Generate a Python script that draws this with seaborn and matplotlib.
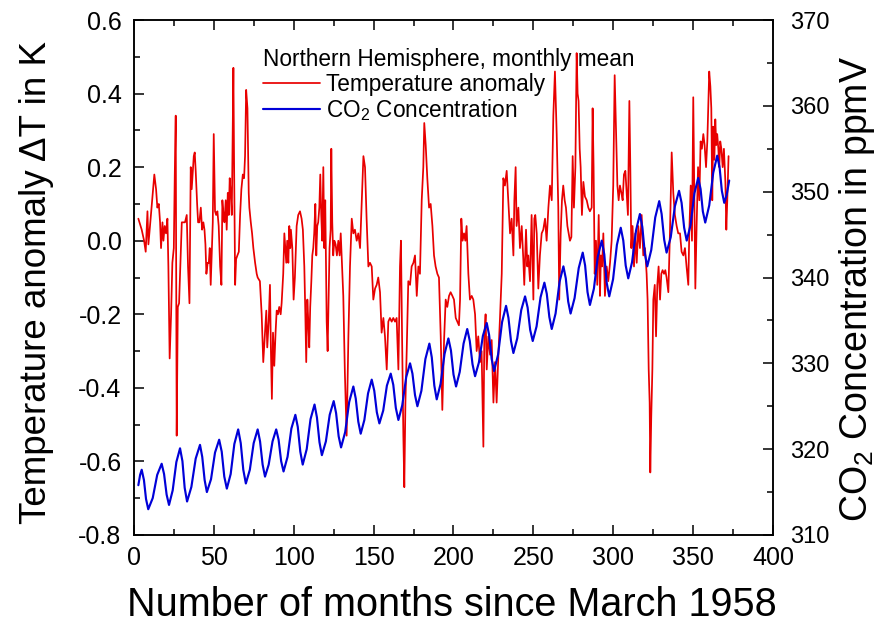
import pandas as pd
import matplotlib
matplotlib.use("Agg")
import matplotlib.pyplot as plt
from matplotlib.ticker import MultipleLocator
import seaborn as sns

# ---------------------------------------------------------
# DATA
# ---------------------------------------------------------
temp_month = [
    2.7, 4.8, 6.3, 7.3, 8.4, 9.0, 10.0, 11.7, 12.7, 13.8, 14.6, 15.5, 16.3, 16.9, 17.8, 18.4,
    19.2, 20.0, 20.9, 21.5, 22.3, 23.2, 24.0, 24.9, 25.5, 26.1, 26.7, 27.4, 28.2, 29.2, 29.9,
    30.9, 31.9, 33.0, 33.8, 34.7, 35.5, 36.1, 36.8, 37.4, 38.0, 38.6, 39.5, 40.1, 40.9, 41.8,
    42.6, 43.4, 44.1, 44.7, 45.3, 46.1, 46.8, 47.4, 48.0, 48.6, 49.3, 49.9, 50.7, 51.4, 52.2,
    53.0, 53.9, 54.7, 55.3, 56.0, 56.6, 57.4, 58.0, 58.7, 59.3, 59.9, 60.5, 61.2, 61.8, 62.2,
    62.6, 63.3, 63.9, 64.7, 65.6, 66.4, 67.2, 68.1, 68.9, 69.5, 70.2, 71.0, 71.8, 72.2, 73.1,
    73.9, 74.7, 75.8, 76.8, 77.4, 78.8, 79.9, 80.9, 82.0, 82.8, 83.4, 84.3, 85.1, 85.7, 86.3,
    87.0, 87.8, 88.6, 89.3, 90.1, 90.9, 91.8, 92.4, 93.4, 94.1, 94.7, 95.3, 95.9, 96.6, 97.2,
    97.8, 98.2, 99.1, 99.9, 100.7, 101.8, 102.8, 103.9, 104.9, 105.7, 106.6, 107.2, 107.8,
    108.5, 109.1, 109.7, 110.3, 111.0, 111.6, 112.2, 112.8, 113.5, 114.1, 114.7, 115.3, 116.0,
    116.6, 117.2, 117.8, 118.5, 119.1, 119.7, 120.6, 121.2, 121.8, 122.4, 123.1, 123.5, 124.1,
    124.7, 125.4, 126.2, 127.0, 127.9, 128.7, 129.4, 131.0, 132.0, 133.1, 134.2, 135.2, 136.3,
    137.3, 138.3, 139.4, 140.4, 141.5, 142.5, 143.6, 144.6, 145.6, 146.7, 147.7, 148.8, 149.8,
    150.9, 151.9, 152.9, 154.0, 155.0, 156.1, 157.1, 158.2, 159.2, 160.2, 161.3, 162.3, 163.4,
    164.4, 165.5, 166.5, 167.1, 167.8, 168.6, 169.2, 169.9, 170.7, 171.7, 172.8, 173.8, 174.9,
    175.9, 177.0, 178.0, 179.0, 180.1, 181.1, 181.7, 182.6, 183.6, 184.7, 185.7, 186.8, 187.8,
    188.8, 189.9, 190.9, 192.0, 193.0, 194.1, 195.1, 196.1, 197.2, 198.2, 199.3, 200.3, 201.4,
    202.4, 203.4, 204.1, 204.9, 205.7, 206.6, 207.4, 208.2, 209.3, 210.3, 211.4, 212.4, 213.5,
    214.5, 215.5, 216.6, 217.6, 218.7, 219.3, 220.1, 220.8, 221.8, 222.9, 223.9, 225.0, 226.0,
    227.0, 228.1, 229.1, 230.2, 231.2, 232.2, 233.3, 234.3, 235.4, 236.4, 237.5, 238.1, 238.9,
    239.5, 240.6, 241.6, 242.7, 243.7, 244.3, 245.4, 246.2, 246.8, 247.9, 248.9, 250.0, 250.6,
    251.2, 252.1, 253.1, 254.1, 255.2, 256.2, 257.3, 258.3, 259.4, 260.4, 261.5, 262.5, 263.5,
    264.6, 265.6, 266.2, 267.1, 267.9, 268.7, 269.6, 270.4, 271.3, 272.1, 272.9, 273.8, 274.6,
    275.4, 276.3, 277.1, 277.7, 278.3, 279.0, 279.6, 280.4, 281.3, 282.3, 283.4, 284.4, 285.4,
    286.5, 287.1, 287.7, 288.4, 289.2, 290.0, 290.9, 291.7, 292.3, 293.0, 293.8, 294.8, 295.9,
    296.9, 298.0, 299.0, 300.0, 300.9, 301.7, 302.6, 303.4, 304.2, 305.1, 305.9, 306.7, 307.6,
    308.4, 309.2, 310.1, 310.7, 311.3, 312.1, 313.0, 313.8, 314.7, 315.7, 316.7, 317.8, 318.8,
    319.9, 320.9, 321.5, 322.2, 322.8, 323.2, 323.8, 324.5, 325.1, 326.0, 326.8, 327.6, 328.4,
    329.3, 330.1, 330.9, 331.8, 332.6, 333.4, 334.5, 335.5, 336.6, 337.6, 338.6, 339.7, 340.7,
    341.8, 342.8, 343.9, 344.9, 345.9, 347.0, 347.6, 348.5, 349.3, 350.1, 350.8, 351.4, 352.2,
    353.1, 353.9, 354.7, 355.5, 356.4, 357.2, 358.1, 358.9, 359.7, 360.1, 360.8, 361.4, 362.0,
    362.6, 363.3, 363.9, 364.5, 365.1, 365.8, 366.4, 367.0, 367.7, 368.5, 369.3, 370.2, 370.8,
    371.4, 372.2,
]
temp_anom = [
    0.06, 0.03, 0.00, -0.03, 0.08, -0.01, 0.04, 0.13, 0.18, 0.14, 0.09, 0.10, 0.05, -0.02, 0.05, 0.00,
    0.04, 0.02, 0.06, -0.07, -0.32, -0.20, -0.06, -0.02, 0.18, 0.34, -0.53, -0.18, -0.17, -0.04, 0.05,
    0.05, 0.05, 0.07, -0.07, -0.17, 0.20, 0.14, 0.19, 0.23, 0.24, 0.19, 0.10, 0.05, 0.05, 0.09,
    0.03, 0.05, 0.03, -0.01, -0.09, -0.06, -0.06, -0.02, -0.12, -0.04, 0.05, 0.29, 0.08, 0.07, 0.08,
    0.04, -0.07, -0.12, 0.11, 0.07, 0.05, 0.11, 0.03, 0.13, 0.07, 0.17, 0.13, 0.07, 0.32, 0.47,
    0.23, -0.12, -0.05, -0.04, -0.03, 0.07, 0.14, 0.18, 0.17, 0.23, 0.41, 0.36, 0.13, 0.09, 0.05,
    0.02, -0.02, -0.06, -0.09, -0.10, -0.11, -0.20, -0.33, -0.25, -0.19, -0.29, -0.22, -0.12, -0.30, -0.43,
    -0.25, -0.34, -0.25, -0.19, -0.20, -0.18, -0.20, -0.17, -0.09, 0.02, -0.02, -0.06, 0.00, -0.06, 0.04,
    -0.02, 0.03, -0.02, -0.16, -0.10, 0.04, 0.07, 0.08, 0.06, 0.03, -0.07, -0.19, -0.33,
    -0.16, -0.22, -0.29, -0.18, -0.11, -0.04, -0.02, 0.02, 0.10, -0.04, 0.04, 0.05, 0.09,
    0.18, 0.07, 0.00, 0.20, -0.02, 0.11, -0.22, -0.30, -0.16, -0.02, 0.03, 0.25, 0.05,
    -0.04, 0.00, -0.01, -0.04, 0.00, -0.04, 0.02, -0.15, -0.36, -0.53, -0.26, -0.07, 0.06,
    0.02, 0.03, 0.00, 0.02, -0.02, 0.10, 0.23, 0.20, 0.06, -0.07, -0.06, -0.07, -0.16,
    -0.13, -0.12, -0.10, -0.14, -0.25, -0.21, -0.26, -0.35, -0.22, -0.21, -0.22, -0.21, -0.22,
    -0.21, -0.35, -0.07, 0.00, -0.26, -0.53, -0.67, -0.44, -0.30, -0.11, -0.12, -0.07, -0.06,
    -0.04, -0.15, -0.07, -0.09, 0.11, 0.20, 0.32, 0.26, 0.17, 0.09, 0.10, 0.04, -0.04,
    -0.07, -0.09, -0.10, -0.26, -0.46, -0.27, -0.16, -0.18, -0.15, -0.14, -0.15, -0.16, -0.21,
    -0.22, -0.23, -0.16, 0.06, 0.00, 0.02, 0.00, 0.04, -0.09, -0.16, -0.15, -0.16, -0.20,
    -0.30, -0.26, -0.33, -0.30, -0.56, -0.26, -0.20, -0.35, -0.26, -0.31, -0.27, -0.44, -0.33,
    -0.44, -0.31, -0.21, -0.09, 0.17, 0.15, 0.19, 0.11, 0.02, 0.06, -0.04, 0.11, 0.20,
    0.04, 0.09, -0.02, 0.04, -0.05, -0.12, 0.03, -0.07, -0.04, -0.11, 0.07, -0.16, 0.06,
    0.07, 0.02, -0.13, -0.04, 0.02, 0.03, 0.06, 0.00, 0.09, 0.15, 0.11, 0.34, 0.46,
    0.29, 0.09, -0.16, 0.02, 0.11, 0.15, 0.11, 0.09, 0.04, 0.02, 0.00, 0.01, 0.23,
    0.09, 0.20, 0.51, 0.40, 0.38, 0.25, 0.20, 0.07, 0.16, 0.12, 0.11, 0.09, 0.08,
    0.09, 0.36, 0.20, -0.09, 0.00, -0.12, 0.07, -0.15, -0.04, -0.07, 0.02, -0.15, -0.07,
    -0.11, -0.06, 0.00, 0.15, 0.45, 0.31, 0.15, 0.11, 0.15, 0.13, 0.11, 0.18, 0.19,
    0.13, 0.07, 0.38, 0.20, -0.02, 0.04, -0.07, 0.02, -0.06, 0.04, -0.02, 0.07, -0.04,
    -0.02, -0.09, -0.16, -0.35, -0.44, -0.63, -0.48, -0.35, -0.16, -0.12, -0.26, -0.12, -0.07,
    -0.16, -0.09, -0.08, -0.09, -0.08, -0.10, -0.14, 0.02, 0.24, 0.13, 0.07, 0.04, 0.02,
    0.02, -0.03, -0.04, -0.02, -0.07, -0.12, 0.02, 0.15, 0.00, 0.39, 0.11, -0.13, 0.04,
    0.20, 0.11, 0.27, 0.25, 0.29, 0.26, 0.20, 0.27, 0.40, 0.46, 0.42, 0.36, 0.11,
    0.31, 0.22, 0.33, 0.26, 0.29, 0.25, 0.20, 0.27, 0.25, 0.20, 0.25, 0.16, 0.03,
    0.11, 0.23,
]

co2_month = [
    2.7, 3.8, 4.8, 6.2, 7.5, 8.9, 11.7, 14.5, 17.3, 18.8, 20.4, 21.9, 24.2, 26.5, 28.8, 30.3,
    31.7, 33.2, 35.9, 38.6, 41.3, 42.7, 44.2, 45.6, 48.2, 50.7, 53.3, 54.9, 56.5, 58.1, 60.5,
    62.8, 65.2, 66.8, 68.4, 70.0, 72.5, 74.9, 77.4, 78.9, 80.5, 82.0, 84.3, 86.7, 89.0, 90.5,
    92.1, 93.6, 96.1, 98.5, 101.0, 102.5, 104.1, 105.6, 108.1, 110.5, 113.0, 114.5, 116.1,
    117.6, 120.1, 122.5, 125.0, 126.5, 128.1, 129.6, 132.2, 134.7, 137.3, 138.8, 140.4, 141.9,
    144.2, 146.5, 148.8, 150.4, 152.0, 153.6, 156.0, 158.3, 160.7, 162.3, 163.9, 165.5, 167.9,
    170.4, 172.8, 174.3, 175.9, 177.4, 179.9, 182.4, 184.9, 186.4, 188.0, 189.5, 191.9, 194.4,
    196.8, 198.4, 200.0, 201.6, 203.9, 206.3, 208.6, 210.2, 211.9, 213.5, 215.9, 218.4, 220.8,
    222.3, 223.9, 225.4, 227.9, 230.4, 232.9, 234.4, 236.0, 237.5, 239.9, 242.4, 244.8, 246.4,
    248.0, 249.6, 252.0, 254.5, 256.9, 258.4, 260.0, 261.5, 263.9, 266.4, 268.8, 270.3, 271.8,
    273.3, 275.8, 278.4, 280.9, 282.4, 283.9, 285.4, 287.9, 290.3, 292.8, 294.4, 295.9, 297.5,
    299.9, 302.3, 304.7, 306.3, 307.8, 309.4, 311.8, 314.3, 316.7, 318.2, 319.8, 321.3, 323.8,
    326.3, 328.8, 330.3, 331.9, 333.4, 336.0, 338.6, 341.2, 342.8, 344.4, 346.0, 348.4, 350.8,
    353.2, 354.7, 356.1, 357.6, 360.1, 362.6, 365.1, 366.6, 368.0, 369.5, 371.0, 372.6,
]
co2_ppm = [
    315.8, 317.0, 317.6, 316.4, 314.2, 313.0, 314.3, 317.0, 318.3, 317.1, 314.7, 313.5, 315.2, 318.5, 320.1, 318.6,
    315.5, 313.9, 315.6, 318.9, 320.5, 319.1, 316.4, 315.0, 316.5, 319.6, 321.1, 319.7, 316.8, 315.4, 317.1,
    320.6, 322.3, 320.7, 317.6, 316.0, 317.6, 320.7, 322.3, 320.9, 318.2, 316.8, 318.2, 320.9, 322.3, 321.1,
    318.6, 317.4, 319.1, 322.4, 324.0, 322.6, 319.7, 318.2, 320.0, 323.5, 325.2, 323.7, 320.8,
    319.3, 320.9, 324.0, 325.6, 324.2, 321.5, 320.2, 322.0, 325.5, 327.3, 325.9, 323.2, 321.8,
    323.4, 326.5, 328.1, 326.8, 324.3, 323.0, 324.5, 327.4, 328.8, 327.5, 324.8, 323.4, 325.1,
    328.4, 330.0, 328.8, 326.3, 325.0, 326.8, 330.5, 332.3, 330.7, 327.4, 325.8, 327.6, 331.1,
    332.9, 331.5, 328.7, 327.3, 329.0, 332.3, 334.0, 332.6, 329.9, 328.5, 330.1, 333.2, 334.7,
    333.3, 330.5, 329.1, 331.0, 334.8, 336.7, 335.3, 332.6, 331.2, 332.9, 336.2, 337.8, 336.5,
    333.9, 332.6, 334.3, 337.7, 339.4, 338.1, 335.4, 334.0, 335.8, 339.5, 341.3, 339.9, 337.2,
    335.8, 337.6, 341.1, 342.9, 341.4, 338.3, 336.8, 338.7, 342.4, 344.3, 342.7, 339.4, 337.8,
    339.8, 343.8, 345.8, 344.3, 341.4, 339.9, 341.8, 345.5, 347.4, 345.9, 342.8, 341.3, 343.2,
    347.0, 348.9, 347.4, 344.4, 342.9, 344.7, 348.3, 350.1, 348.7, 345.8, 344.3, 346.1, 349.8,
    351.6, 350.3, 347.7, 346.4, 348.4, 352.2, 354.2, 352.8, 350.1, 348.7, 349.6, 351.3,
]

legend_title = "Northern Hemisphere, monthly mean"
temp_label = "Temperature anomaly"
co2_label = r"CO$_\mathregular{2}$ Concentration"

RED = "#e80000"
BLUE = "#0000d8"

# ---------------------------------------------------------
# STYLE
# ---------------------------------------------------------
sns.set_theme(style="ticks")
plt.rcParams["font.family"] = ["Liberation Sans", "DejaVu Sans"]
plt.rcParams["axes.unicode_minus"] = False
plt.rcParams["axes.edgecolor"] = "black"
plt.rcParams["axes.labelcolor"] = "black"
plt.rcParams["text.color"] = "black"
plt.rcParams["xtick.color"] = "black"
plt.rcParams["ytick.color"] = "black"

temp_df = pd.DataFrame({"month": temp_month, "anomaly": temp_anom})
co2_df = pd.DataFrame({"month": co2_month, "ppm": co2_ppm})

fig = plt.figure(figsize=(8.9, 6.26), dpi=100)
ax = fig.add_axes([0.1506, 0.1454, 0.7179, 0.8226])
ax2 = ax.twinx()

sns.lineplot(data=temp_df, x="month", y="anomaly", ax=ax, color=RED, linewidth=1.25,
             estimator=None, sort=False, label=temp_label, legend=False)
sns.lineplot(data=co2_df, x="month", y="ppm", ax=ax2, color=BLUE, linewidth=1.55,
             estimator=None, sort=False, label=co2_label, legend=False)
for a in (ax, ax2):
    if a.get_legend() is not None:
        a.get_legend().remove()

# axes limits / ticks
ax.set_xlim(0, 400)
ax.set_ylim(-0.8, 0.6)
ax2.set_ylim(310, 370)
ax.xaxis.set_major_locator(MultipleLocator(50))
ax.xaxis.set_minor_locator(MultipleLocator(25))
ax.yaxis.set_major_locator(MultipleLocator(0.2))
ax.yaxis.set_minor_locator(MultipleLocator(0.1))
ax2.yaxis.set_major_locator(MultipleLocator(10))
ax2.yaxis.set_minor_locator(MultipleLocator(5))

ax.tick_params(which="both", direction="in", top=True, right=False, width=1.1, labelsize=18)
ax.tick_params(which="major", length=7)
ax.tick_params(which="minor", length=4)
ax.tick_params(axis="x", pad=8)
ax.tick_params(axis="y", pad=9)
ax2.tick_params(which="both", direction="in", right=True, width=1.1, labelsize=17, pad=12)
ax2.tick_params(which="major", length=7)
ax2.tick_params(which="minor", length=4)

for a in (ax, ax2):
    for s in a.spines.values():
        s.set_visible(True)
        s.set_linewidth(1.1)
        s.set_color("black")

# labels
ax.set_xlabel("Number of months since March 1958", fontsize=28.5)
ax.set_ylabel("Temperature anomaly \u0394T in K", fontsize=26.5)
ax2.set_ylabel(r"CO$_\mathregular{2}$ Concentration in ppmV", fontsize=27)
ax.xaxis.set_label_coords(0.498, -0.1)
ax.yaxis.set_label_coords(-0.125, 0.49)
ax2.yaxis.set_label_coords(1.1, 0.478)

# legend
h1, l1 = ax.get_legend_handles_labels()
h2, l2 = ax2.get_legend_handles_labels()
leg_font = {"family": "Liberation Sans", "size": 16.3}
leg = ax2.legend(h1 + h2, l1 + l2, title=legend_title, loc="upper left",
                 bbox_to_anchor=(0.202, 0.945), frameon=False, prop=leg_font,
                 title_fontproperties=leg_font, alignment="left", borderpad=0,
                 borderaxespad=0, handlelength=2.5, handletextpad=0.3, labelspacing=0.06)

fig.savefig("out.png", dpi=100)
print("Saved: out.png")
